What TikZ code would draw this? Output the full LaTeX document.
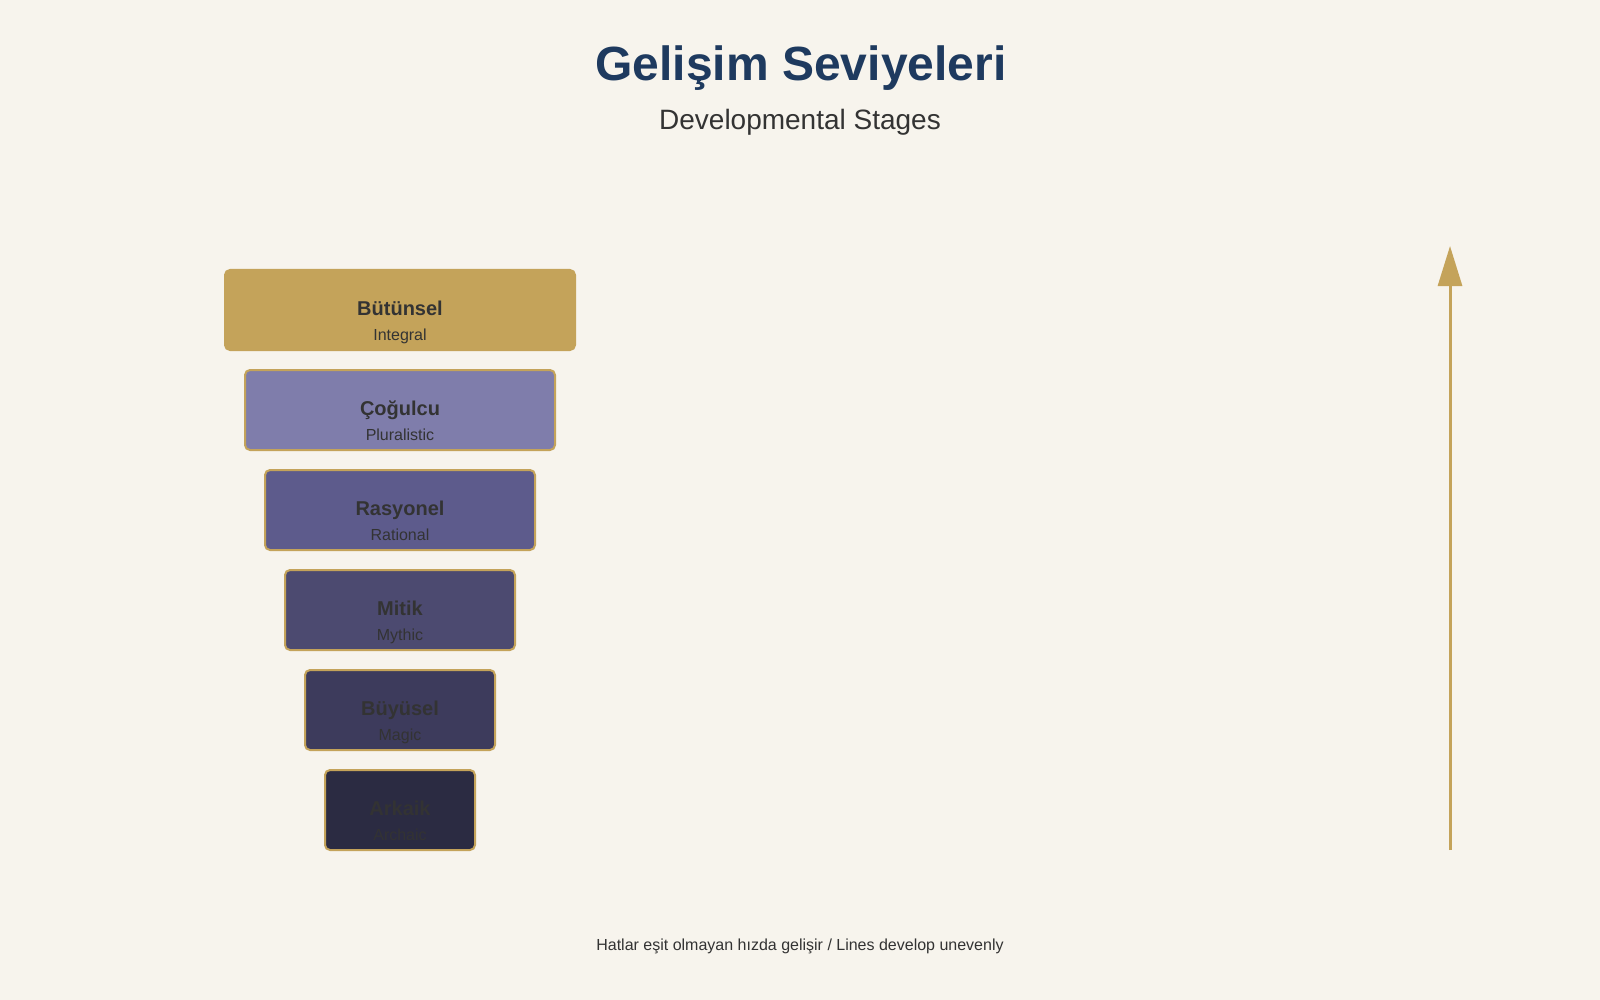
\documentclass[tikz,border=0pt]{standalone}
\usepackage{fontspec}
\setmainfont{Liberation Sans}
\usetikzlibrary{arrows.meta,positioning}
\definecolor{bgcream}{HTML}{F7F4ED}
\definecolor{gold}{HTML}{C4A35A}
\definecolor{titleblue}{HTML}{1E3A5F}
\definecolor{textdark}{HTML}{333333}
\definecolor{integralfill}{HTML}{C4A35A}
\definecolor{pluralfill}{HTML}{7F7DAB}
\definecolor{rationalfill}{HTML}{5D5B8C}
\definecolor{mythicfill}{HTML}{4C4A70}
\definecolor{magicfill}{HTML}{3D3B5C}
\definecolor{archaicfill}{HTML}{2B2B42}
\begin{document}
\begin{tikzpicture}[x=1pt, y=1pt]
    % Define styles
    \tikzset{
        stage/.style={draw=gold, line width=2pt, rounded corners=5pt, minimum height=80pt, inner sep=0pt},
        stagename/.style={anchor=base, text=textdark, font=\fontsize{20}{24}\selectfont\bfseries},
        stagesub/.style={anchor=base, text=textdark, font=\fontsize{16}{19}\selectfont},
        arrow/.style={-{Triangle[width=24pt, length=40pt]}, line width=3pt, draw=gold}
    }
    
    % Background
    \fill[bgcream] (0,0) rectangle (1600,-1000);
    \useasboundingbox (0,0) rectangle (1600,-1000);
    
    % Title
    \node[anchor=base, text=titleblue, font=\fontsize{48}{56}\selectfont\bfseries] (title) at (801,-81) {Gelişim Seviyeleri};
    \node[anchor=base, text=textdark, font=\fontsize{28}{34}\selectfont] (subtitle) at (800,-130) {Developmental Stages};
    
    % Stages, widest at the top
    \node[stage, fill=integralfill, minimum width=350pt] (integral) at (400,-310) {};
    \node[stage, fill=pluralfill, minimum width=310pt] (plural) at (400,-410) {};
    \node[stage, fill=rationalfill, minimum width=270pt] (rational) at (400,-510) {};
    \node[stage, fill=mythicfill, minimum width=230pt] (mythic) at (400,-610) {};
    \node[stage, fill=magicfill, minimum width=190pt] (magic) at (400,-710) {};
    \node[stage, fill=archaicfill, minimum width=150pt] (archaic) at (400,-810) {};
    
    % Stage names
    \node[stagename] (integralname) at ([yshift=-46pt]integral.north) {Bütünsel};
    \node[stagesub] (integralsub) at ([yshift=-71pt]integral.north) {Integral};
    \node[stagename] (pluralname) at ([yshift=-46pt]plural.north) {Çoğulcu};
    \node[stagesub] (pluralsub) at ([yshift=-71pt]plural.north) {Pluralistic};
    \node[stagename] (rationalname) at ([yshift=-46pt]rational.north) {Rasyonel};
    \node[stagesub] (rationalsub) at ([yshift=-71pt]rational.north) {Rational};
    \node[stagename] (mythicname) at ([yshift=-46pt]mythic.north) {Mitik};
    \node[stagesub] (mythicsub) at ([yshift=-71pt]mythic.north) {Mythic};
    \node[stagename] (magicname) at ([yshift=-46pt]magic.north) {Büyüsel};
    \node[stagesub] (magicsub) at ([yshift=-71pt]magic.north) {Magic};
    \node[stagename] (archaicname) at ([yshift=-46pt]archaic.north) {Arkaik};
    \node[stagesub] (archaicsub) at ([yshift=-71pt]archaic.north) {Archaic};
    
    % Growth arrow
    \coordinate (arrowbase) at (1450,-850);
    \coordinate (arrowtip) at (1450,-246);
    \draw[arrow] (arrowbase) -- (arrowtip);
    
    % Footer
    \node[anchor=base, text=textdark, font=\fontsize{16}{19}\selectfont] (footer) at (800,-950) {Hatlar eşit olmayan hızda gelişir / Lines develop unevenly};
    
\end{tikzpicture}
\end{document}
